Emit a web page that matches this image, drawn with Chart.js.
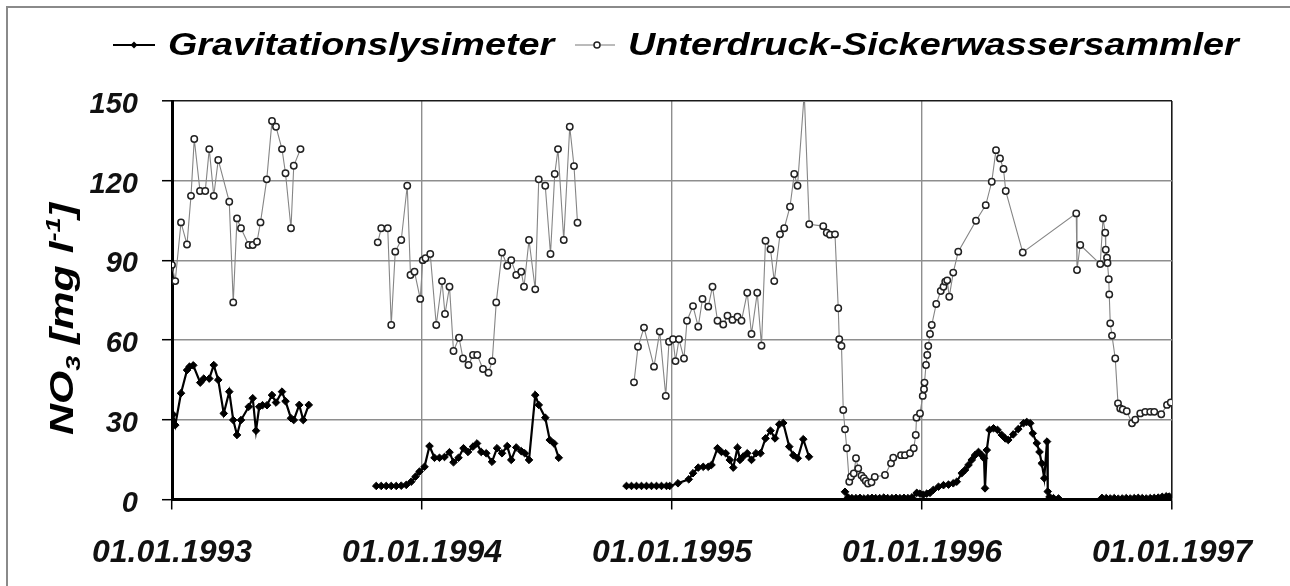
<!DOCTYPE html>
<html>
<head>
<meta charset="utf-8">
<script src="https://cdn.jsdelivr.net/npm/chart.js@4.4.1/dist/chart.umd.min.js"></script>
<style>
html,body{margin:0;padding:0;background:#fff;}
#wrap{width:1290px;height:586px;position:relative;}
</style>
</head>
<body>
<div id="wrap"><canvas id="c" width="1290" height="586"></canvas></div>
<script>
// ---- data (x = decimal year) ----
const seriesNames = ['Gravitationslysimeter', 'Unterdruck-Sickerwassersammler'];
const xTickYears = [1993, 1994, 1995, 1996, 1997];
const yTicks = [0, 30, 60, 90, 120, 150];

const gravX = [
 1993.000,1993.004,1993.013,1993.036,1993.060,1993.070,1993.085,1993.113,1993.127,1993.149,1993.167,1993.185,1993.207,1993.229,1993.245,1993.260,1993.276,1993.307,1993.323,1993.336,1993.349,1993.362,1993.380,1993.400,1993.416,1993.440,1993.454,1993.476,1993.487,1993.509,1993.525,1993.547,
 1993.680,
 1993.817,1993.837,1993.857,1993.877,1993.897,1993.917,1993.937,1993.957,1993.974,1993.990,1994.010,1994.030,1994.050,1994.070,1994.090,1994.110,1994.126,1994.146,1994.166,1994.184,1994.204,1994.220,1994.237,1994.257,1994.280,1994.300,1994.320,1994.341,1994.357,1994.377,1994.397,1994.411,1994.428,1994.453,1994.467,1994.493,1994.511,1994.528,1994.547,
 1994.680,
 1994.818,1994.838,1994.858,1994.878,1994.898,1994.918,1994.938,1994.958,1994.978,1994.991,1995.024,1995.067,1995.084,1995.105,1995.125,1995.145,1995.158,1995.182,1995.198,1995.215,1995.231,1995.245,1995.262,1995.272,1995.285,1995.301,1995.318,1995.336,1995.354,1995.374,1995.394,1995.412,1995.429,1995.445,1995.469,1995.485,1995.503,1995.525,1995.548,
 1995.620,
 1995.692,1995.704,1995.720,1995.736,1995.752,1995.768,1995.784,1995.800,1995.815,1995.831,1995.847,1995.863,1995.880,1995.896,1995.912,1995.928,1995.944,1995.960,
 1995.979,1995.992,1996.005,1996.019,1996.032,1996.045,1996.066,1996.086,1996.106,1996.125,1996.139,1996.159,1996.172,1996.186,1996.199,1996.212,1996.226,1996.239,1996.248,1996.252,1996.259,1996.270,1996.286,1996.302,1996.319,1996.333,1996.345,1996.365,1996.385,1996.406,1996.419,1996.433,1996.443,1996.459,1996.470,1996.479,1996.489,1996.500,1996.503,1996.510,1996.526,1996.546,
 1996.630,
 1996.720,1996.737,1996.753,1996.769,1996.785,1996.801,1996.817,1996.833,1996.849,1996.865,1996.881,1996.897,1996.913,1996.929,1996.945,1996.961,1996.977,1996.989
];
const gravY = [
 30,32,28,40,48.7,50,50.5,44,45.5,45.5,50.6,45,32.4,40.6,29.9,24.3,29.9,34.9,38.1,25.9,34.9,35.5,35.5,39.3,36.5,40.6,37,30.6,29.9,35.6,29.9,35.6,
 null,
 5.1,5.1,5.1,5.1,5.1,5.2,5.5,6.7,8.6,10.5,12.3,20.1,15.7,15.7,16,17.8,14,15.7,19.3,17.9,19.9,21.1,17.9,17.4,14.2,19.3,17.4,20.1,14.9,19.6,18.2,17.4,14.9,39.3,35.6,30.8,22.4,21.1,15.7,
 null,
 5.1,5.1,5.1,5.1,5.1,5.1,5.1,5.1,5.1,5.1,6.1,7.6,9.9,12.0,12.3,12.3,13,19.3,17.9,17.4,14.9,12.0,19.5,14.9,16.2,17.4,14.9,17.4,17.4,23.0,25.9,23.0,28.3,28.8,19.9,16.7,15.5,22.7,16.1,
 null,
 2.9,0.8,0.5,0.5,0.6,0.4,0.5,0.6,0.5,0.5,0.7,0.5,0.5,0.6,0.5,0.6,0.5,0.8,
 2.5,2.2,1.8,2.2,2.5,3.6,4.8,5.4,5.6,6.1,6.7,9.9,11.1,13.0,14.9,16.7,17.9,16.7,15.5,4.2,18.6,26.2,26.8,26.2,24.3,23.0,22.4,24.5,26.5,28.7,29.2,28.7,24.9,21.2,17.9,13.6,8.0,21.8,3.0,1.0,0.5,0.4,
 null,
 0.6,0.5,0.4,0.5,0.3,0.4,0.5,0.4,0.5,0.6,0.5,0.4,0.5,0.6,0.7,1.0,1.2,1.1
];

const sickX = [
 1993.000,1993.013,1993.036,1993.060,1993.076,1993.089,1993.112,1993.133,1993.149,1993.167,1993.185,1993.229,1993.245,1993.260,1993.276,1993.307,1993.323,1993.340,1993.354,1993.379,1993.400,1993.416,1993.440,1993.454,1993.476,1993.487,1993.514,
 1993.670,
 1993.823,1993.837,1993.863,1993.877,1993.893,1993.917,1993.941,1993.954,1993.970,1993.993,1994.003,1994.014,1994.033,1994.057,1994.080,1994.092,1994.110,1994.126,1994.148,1994.164,1994.186,1994.204,1994.221,1994.244,1994.266,1994.281,1994.297,1994.320,1994.341,1994.357,1994.377,1994.397,1994.408,1994.428,1994.453,1994.467,1994.493,1994.514,1994.531,1994.544,1994.567,1994.591,1994.608,1994.622,
 1994.730,
 1994.848,1994.864,1994.888,1994.928,1994.951,1994.975,1994.988,1995.004,1995.014,1995.028,1995.048,1995.060,1995.084,1995.105,1995.122,1995.145,1995.162,1995.182,1995.205,1995.222,1995.242,1995.262,1995.278,1995.301,1995.318,1995.341,1995.358,1995.374,1995.394,1995.409,1995.432,1995.449,1995.472,1995.489,1995.502,1995.529,1995.549,1995.605,1995.619,1995.632,1995.652,
 1995.665,1995.669,1995.678,1995.685,1995.692,1995.699,1995.709,1995.716,1995.727,1995.736,1995.745,1995.758,1995.767,1995.775,1995.784,1995.798,1995.811,1995.852,1995.876,1995.885,1995.916,1995.932,1995.952,1995.967,1995.975,1995.978,1995.992,
 1996.003,1996.008,1996.010,1996.016,1996.021,1996.025,1996.032,1996.039,1996.057,1996.075,1996.086,1996.093,1996.101,1996.109,1996.125,1996.145,1996.216,1996.255,1996.279,1996.296,1996.312,1996.326,1996.335,1996.403,
 1996.617,1996.620,1996.633,1996.713,1996.724,1996.733,1996.735,1996.740,1996.742,1996.747,1996.749,1996.753,1996.760,1996.773,1996.784,1996.793,1996.803,1996.819,1996.840,1996.853,1996.873,1996.893,1996.913,1996.929,1996.957,1996.980,1996.995
];
const sickY = [
 88.3,82.2,104.3,96.0,114.3,135.7,116.1,116.1,131.9,114.3,127.8,112.1,74.2,105.8,102.1,95.8,95.8,97.0,104.3,120.5,142.5,140.3,131.9,122.8,102.1,125.6,131.9,
 null,
 96.8,102.1,102.1,65.7,93.3,97.7,118.1,84.5,85.7,75.5,90.1,90.8,92.4,65.7,82.2,69.8,80.1,55.9,60.9,53.1,50.6,54.4,54.4,49.1,47.7,52.1,74.2,93.0,88.0,90.1,84.5,85.7,80.1,97.7,79.1,120.5,118.1,92.4,122.5,131.9,97.7,140.3,125.5,104.2,
 null,
 44.1,57.5,64.7,50.0,63.2,39.0,59.4,60.3,52.1,60.3,53.1,67.3,72.8,65.0,75.5,72.6,80.1,67.3,65.9,69.2,67.6,68.8,67.3,77.8,62.3,77.8,57.9,97.4,94.2,82.2,99.8,102.1,110.2,122.5,118.1,153,103.6,102.9,100.4,99.7,99.8,
 72.0,60.3,57.8,33.7,26.4,19.3,6.7,8.6,9.8,15.5,11.7,9,8,7,6,6.5,8.5,9.2,13.6,15.7,16.7,16.7,17.4,19.3,24.3,30.8,32.4,
 39.0,41.5,44.0,50.6,54.4,57.8,62.3,65.7,73.6,78.5,80.1,82.0,82.5,76.3,85.4,93.3,104.9,110.8,119.6,131.5,128.4,124.4,116.1,93.0,
 107.7,86.4,95.8,88.6,105.8,100.4,94,91,89,82.9,77.2,66.3,61.7,53.1,36.2,34.3,33.9,33.2,28.7,30,32.4,33,33,33,32.1,35.6,36.5
];

// ---- helpers ----
const FONT = "'Liberation Sans', Arial, Helvetica, sans-serif";
function pts(xs, ys){ return xs.map((x,i)=>({x:x, y:ys[i]})); }

const decor = {
  id: 'decor',
  beforeDraw(chart){
    const ctx = chart.ctx;
    ctx.save();
    ctx.fillStyle = '#fff';
    ctx.fillRect(0,0,chart.width,chart.height);
    ctx.strokeStyle = '#8a8a8a';
    ctx.lineWidth = 2;
    ctx.beginPath();
    ctx.moveTo(7, chart.height); ctx.lineTo(7, 7); ctx.lineTo(chart.width, 7);
    ctx.stroke();
    ctx.restore();
  },
  afterDraw(chart){
    const ctx = chart.ctx;
    ctx.save();
    // legend
    const ly = 45;
    const stretch = 1.18;
    ctx.font = "italic bold 32px " + FONT;
    ctx.textBaseline = 'alphabetic';
    ctx.fillStyle = '#000';
    // item 1
    ctx.strokeStyle = '#000'; ctx.lineWidth = 2;
    ctx.beginPath(); ctx.moveTo(113, ly); ctx.lineTo(155, ly); ctx.stroke();
    ctx.beginPath(); ctx.moveTo(134, ly-3.5); ctx.lineTo(137.5, ly); ctx.lineTo(134, ly+3.5); ctx.lineTo(130.5, ly); ctx.closePath(); ctx.fill();
    ctx.save(); ctx.translate(168, 55); ctx.scale(stretch,1); ctx.fillText(seriesNames[0], 0, 0); ctx.restore();
    // item 2
    ctx.strokeStyle = '#777'; ctx.lineWidth = 1;
    ctx.beginPath(); ctx.moveTo(575, ly); ctx.lineTo(615, ly); ctx.stroke();
    ctx.beginPath(); ctx.arc(597, ly, 3, 0, Math.PI*2); ctx.fillStyle='#fff'; ctx.fill();
    ctx.strokeStyle = '#222'; ctx.lineWidth = 1.5; ctx.stroke();
    ctx.fillStyle = '#000';
    ctx.save(); ctx.translate(628, 55); ctx.scale(stretch,1); ctx.fillText(seriesNames[1], 0, 0); ctx.restore();

    // y axis title: NO3 [mg l-1]
    const big = "italic bold 33px " + FONT, small = "italic bold 21px " + FONT;
    const parts = [
      {t:'NO', f:big, dy:0},
      {t:'3', f:small, dy:7},
      {t:' [mg l', f:big, dy:0},
      {t:'-1', f:small, dy:-13},
      {t:']', f:big, dy:0}
    ];
    let W = 0;
    parts.forEach(p=>{ ctx.font = p.f; p.w = ctx.measureText(p.t).width; W += p.w; });
    const target = 232;
    const s = target / W;
    ctx.translate(73, 319);
    ctx.rotate(-Math.PI/2);
    ctx.scale(s, 1);
    let x = -W/2;
    parts.forEach(p=>{ ctx.font = p.f; ctx.fillText(p.t, x, p.dy); x += p.w; });
    ctx.restore();
  }
};

const ctx = document.getElementById('c').getContext('2d');
new Chart(ctx, {
  type: 'line',
  data: {
    datasets: [
      {
        label: seriesNames[0],
        data: pts(gravX, gravY),
        borderColor: '#000',
        borderWidth: 2.2,
        pointStyle: 'rectRot',
        pointRadius: 3.8,
        pointBackgroundColor: '#000',
        pointBorderColor: '#000',
        pointBorderWidth: 1,
        spanGaps: false,
        tension: 0
      },
      {
        label: seriesNames[1],
        data: pts(sickX, sickY),
        borderColor: '#858585',
        borderWidth: 1.1,
        pointStyle: 'circle',
        pointRadius: 3.2,
        pointBackgroundColor: '#fff',
        pointBorderColor: '#222',
        pointBorderWidth: 1.5,
        spanGaps: false,
        tension: 0
      }
    ]
  },
  options: {
    responsive: false,
    animation: false,
    devicePixelRatio: 1,
    layout: { padding: { top: 101, right: 118, bottom: 0, left: 0 } },
    plugins: { legend: { display: false }, tooltip: { enabled: false } },
    scales: {
      x: {
        type: 'linear',
        min: 1993, max: 1997,
        afterBuildTicks: (sc) => { sc.ticks = xTickYears.map(v => ({ value: v })); },
        afterFit: (sc) => { sc.height = 86.5; },
        ticks: {
          callback: (v) => '01.01.' + v,
          font: { family: FONT, size: 32, style: 'italic', weight: 'bold' },
          color: '#111',
          padding: 24,
          maxRotation: 0,
          autoSkip: false
        },
        grid: {
          color: (c) => c.tick && c.tick.value === 1993 ? '#000' : (c.tick && c.tick.value === 1997 ? '#1a1a1a' : '#8e8e8e'),
          lineWidth: (c) => c.tick && c.tick.value === 1997 ? 1.6 : 1.4,
          tickColor: '#000',
          tickLength: 10,
          tickWidth: 1.5,
          drawTicks: true
        },
        border: { display: true, color: '#000', width: 3 }
      },
      y: {
        min: 0, max: 150,
        afterBuildTicks: (sc) => { sc.ticks = yTicks.map(v => ({ value: v })); },
        afterFit: (sc) => { sc.width = 172; },
        ticks: {
          font: { family: FONT, size: 29, style: 'italic', weight: 'bold' },
          color: '#111',
          padding: 24,
          labelOffset: 4
        },
        grid: {
          color: (c) => c.tick && c.tick.value === 0 ? '#000' : (c.tick && c.tick.value === 150 ? '#1a1a1a' : '#8e8e8e'),
          lineWidth: (c) => c.tick && c.tick.value === 150 ? 1.6 : 1.4,
          tickColor: '#000',
          tickLength: 10,
          tickWidth: 1.5
        },
        border: { display: true, color: '#000', width: 3 }
      }
    }
  },
  plugins: [decor]
});
</script>
</body>
</html>
